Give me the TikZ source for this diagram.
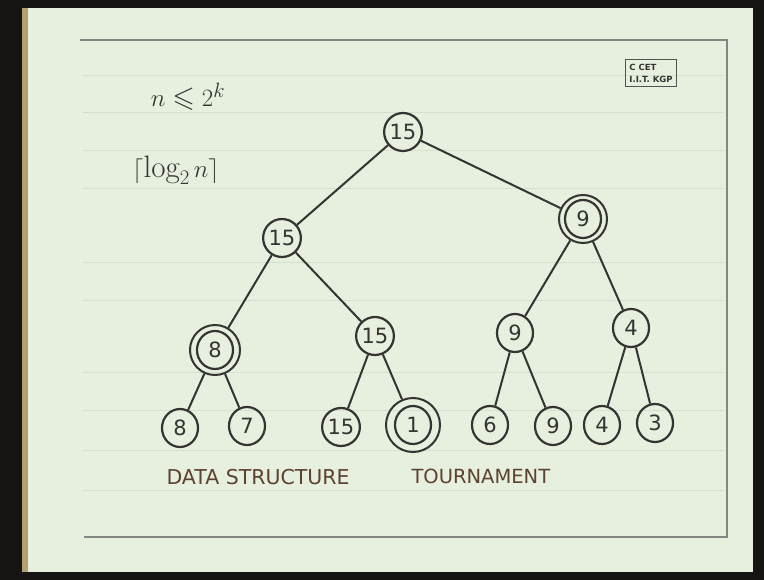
\documentclass[tikz,border=0pt]{standalone}
\usepackage{amssymb}
\usepackage{fontspec}
\setsansfont{DejaVu Sans}
\usetikzlibrary{shapes.geometric}
\definecolor{paper}{RGB}{231,239,222}
\definecolor{frame}{RGB}{22,20,18}
\definecolor{tan}{RGB}{178,160,110}
\definecolor{ink}{RGB}{52,52,50}
\definecolor{redink}{RGB}{92,66,48}
\definecolor{grid}{RGB}{214,224,206}
\tikzset{
  key/.style={ellipse, draw=ink, line width=2.2pt, minimum width=36pt, minimum height=38pt,
              inner sep=0pt, font=\sffamily\fontsize{21}{21}\selectfont, text=ink},
  ring/.style={circle, draw=ink, line width=2pt, inner sep=0pt},
  edge/.style={draw=ink, line width=2pt},
  caption/.style={font=\sffamily\fontsize{20.5}{21}\selectfont, text=redink, anchor=west}
}
\begin{document}
\begin{tikzpicture}[x=1pt,y=-1pt]
\useasboundingbox (0,0) rectangle (764,580);
% dark surround and the paper sheet
\fill[frame] (0,0) rectangle (764,580);
\fill[paper] (22,8) rectangle (753,572);
\fill[tan] (22,8) rectangle (28,572);
% faint ruled lines of the sheet
\foreach \yy in {75,112,150,188,262,300,372,410,450,490} {
  \draw[grid, line width=0.8pt] (82,\yy) -- (725,\yy);
}
% inner border of the slide
\draw[ink!60, line width=1.3pt] (80,40) -- (727,40) -- (727,537) -- (84,537);
% stamp in the corner
\node[draw=ink!85, line width=1.4pt, inner sep=4pt, align=left,
      font=\sffamily\bfseries\fontsize{8.5}{12}\selectfont, text=ink] (stamp) at (651,73)
  {C CET\\ I.I.T. KGP};
% formulas
\node[text=ink, font=\fontsize{29}{29}\selectfont] (ineq) at (188,97) {$n \leqslant 2^{k}$};
\node[text=ink, font=\fontsize{31}{31}\selectfont] (logn) at (176,170) {$\lceil \log_2 n \rceil$};
% tree nodes
\node[key] (a)   at (403,132) {15};
\node[key] (b)   at (282,238) {15};
\node[key] (c)   at (583,219) {9};
\node[key] (d)   at (215,350) {8};
\node[key] (e)   at (375,336) {15};
\node[key] (f)   at (515,333) {9};
\node[key] (g)   at (631,328) {4};
\node[key] (h1)  at (180,428) {8};
\node[key] (h2)  at (247,426) {7};
\node[key] (h3)  at (341,427) {15};
\node[key] (h4)  at (413,425) {1};
\node[key] (h5)  at (490,425) {6};
\node[key] (h6)  at (553,426) {9};
\node[key] (h7)  at (602,425) {4};
\node[key] (h8)  at (655,423) {3};
% outer rings on the winners of each match
\node[ring, minimum size=48pt] (cr) at (c)  {};
\node[ring, minimum size=50pt] (dr) at (d)  {};
\node[ring, minimum size=54pt] (hr) at (h4) {};
% connectors
\draw[edge] (a) -- (b);
\draw[edge] (a) -- (cr);
\draw[edge] (b) -- (dr);
\draw[edge] (b) -- (e);
\draw[edge] (cr) -- (f);
\draw[edge] (cr) -- (g);
\draw[edge] (dr) -- (h1);
\draw[edge] (dr) -- (h2);
\draw[edge] (e) -- (h3);
\draw[edge] (e) -- (hr);
\draw[edge] (f) -- (h5);
\draw[edge] (f) -- (h6);
\draw[edge] (g) -- (h7);
\draw[edge] (g) -- (h8);
% captions
\node[caption] (t1) at (163,477) {DATA STRUCTURE};
\node[caption, font=\sffamily\fontsize{19.5}{20}\selectfont] (t2) at (408,476) {TOURNAMENT};
\end{tikzpicture}
\end{document}
